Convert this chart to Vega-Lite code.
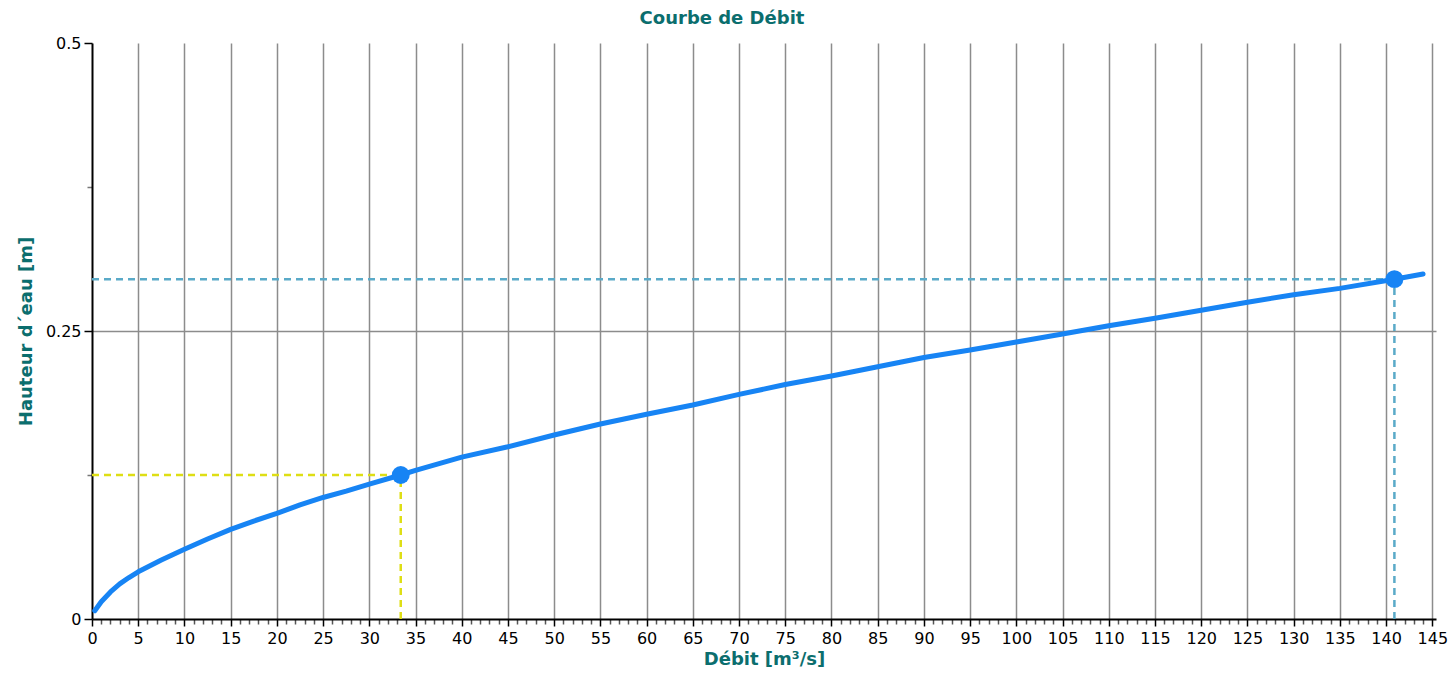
{
  "$schema": "https://vega.github.io/schema/vega-lite/v6.json",
  "width": 1344,
  "height": 576,
  "autosize": {"type": "none"},
  "padding": {"left": 92, "top": 43, "right": 16, "bottom": 58},
  "title": {"text": "Courbe de Débit", "color": "#0b6e6e", "font": "DejaVu Sans", "fontSize": 18, "fontWeight": "bold", "anchor": "middle", "dx": -42, "offset": 7},
  "config": {
    "view": {"stroke": null},
    "axis": {"labelFont": "DejaVu Sans", "labelFontSize": 16, "labelColor": "#000", "titleFont": "DejaVu Sans", "titleFontSize": 18, "titleFontWeight": "bold", "titleColor": "#0b6e6e", "domainColor": "#000", "domainWidth": 2, "tickColor": "#000", "tickWidth": 1.5, "gridColor": "#8c8c8c", "gridWidth": 1.5}
  },
  "datasets": {
    "curve": [
      {"q": 0.3, "h": 0.0072}, {"q": 1, "h": 0.015}, {"q": 2, "h": 0.0235}, {"q": 3, "h": 0.0305},
      {"q": 4, "h": 0.036}, {"q": 5, "h": 0.041}, {"q": 7.5, "h": 0.0512}, {"q": 10, "h": 0.0605},
      {"q": 12.5, "h": 0.0695}, {"q": 15, "h": 0.0778}, {"q": 17.5, "h": 0.085}, {"q": 20, "h": 0.0917},
      {"q": 22.5, "h": 0.099}, {"q": 25, "h": 0.1055}, {"q": 27.5, "h": 0.111}, {"q": 30, "h": 0.117},
      {"q": 33.4, "h": 0.125}, {"q": 35, "h": 0.129}, {"q": 40, "h": 0.1405}, {"q": 45, "h": 0.1495},
      {"q": 50, "h": 0.1597}, {"q": 55, "h": 0.1693}, {"q": 60, "h": 0.1777}, {"q": 65, "h": 0.1858},
      {"q": 70, "h": 0.195}, {"q": 75, "h": 0.2035}, {"q": 80, "h": 0.211}, {"q": 85, "h": 0.219},
      {"q": 90, "h": 0.227}, {"q": 95, "h": 0.2335}, {"q": 100, "h": 0.2405}, {"q": 105, "h": 0.2474},
      {"q": 110, "h": 0.2545}, {"q": 115, "h": 0.261}, {"q": 120, "h": 0.268}, {"q": 125, "h": 0.275},
      {"q": 130, "h": 0.2815}, {"q": 135, "h": 0.287}, {"q": 140.9, "h": 0.295}, {"q": 144, "h": 0.2995}
    ],
    "refs": [
      {"series": "A", "q": 0, "q2": 33.4, "h": 0.125, "h2": 0.125},
      {"series": "A", "q": 33.4, "q2": 33.4, "h": 0, "h2": 0.125},
      {"series": "B", "q": 0, "q2": 140.9, "h": 0.295, "h2": 0.295},
      {"series": "B", "q": 140.9, "q2": 140.9, "h": 0, "h2": 0.295}
    ],
    "pts": [
      {"q": 33.4, "h": 0.125},
      {"q": 140.9, "h": 0.295}
    ]
  },
  "layer": [
    {
      "data": {"name": "refs"},
      "mark": {"type": "rule", "strokeDash": [7, 5], "strokeWidth": 2.5},
      "encoding": {
        "x": {"field": "q", "type": "quantitative", "scale": {"domain": [0, 145.4], "nice": false, "zero": false},
          "axis": {"values": [0,1,2,3,4,5,6,7,8,9,10,11,12,13,14,15,16,17,18,19,20,21,22,23,24,25,26,27,28,29,30,31,32,33,34,35,36,37,38,39,40,41,42,43,44,45,46,47,48,49,50,51,52,53,54,55,56,57,58,59,60,61,62,63,64,65,66,67,68,69,70,71,72,73,74,75,76,77,78,79,80,81,82,83,84,85,86,87,88,89,90,91,92,93,94,95,96,97,98,99,100,101,102,103,104,105,106,107,108,109,110,111,112,113,114,115,116,117,118,119,120,121,122,123,124,125,126,127,128,129,130,131,132,133,134,135,136,137,138,139,140,141,142,143,144,145],
            "tickCount": 300,
            "labelFont": "DejaVu Sans", "labelFontSize": 16, "labelColor": "#000",
            "titleFont": "DejaVu Sans", "titleFontSize": 18, "titleFontWeight": "bold", "titleColor": "#0b6e6e",
            "title": "Débit [m³/s]", "labelPadding": 4, "titlePadding": 4, "labelFlush": false, "labelOverlap": false,
            "labelExpr": "datum.value % 5 == 0 ? format(datum.value, 'd') : ''",
            "tickSize": {"condition": {"test": "datum.value % 5 == 0", "value": 7}, "value": 5},
            "tickColor": {"condition": {"test": "datum.value % 5 == 0", "value": "#000"}, "value": "#555"},
            "gridOpacity": {"condition": {"test": "datum.value % 5 == 0 && datum.value > 0", "value": 1}, "value": 0}}},
        "x2": {"field": "q2"},
        "y": {"field": "h", "type": "quantitative", "scale": {"domain": [0, 0.5], "nice": false},
          "axis": {"values": [0, 0.125, 0.25, 0.375, 0.5], "tickCount": 20, "title": "Hauteur d´eau [m]", "titlePadding": 10,
            "labelFont": "DejaVu Sans", "labelFontSize": 16, "labelColor": "#000",
            "titleFont": "DejaVu Sans", "titleFontSize": 18, "titleFontWeight": "bold", "titleColor": "#0b6e6e",
            "labelExpr": "datum.value == 0 ? '0' : datum.value == 0.25 ? '0.25' : datum.value == 0.5 ? '0.5' : ''",
            "gridOpacity": {"condition": {"test": "datum.value == 0.25", "value": 1}, "value": 0},
            "tickSize": {"condition": {"test": "datum.value == 0.125 || datum.value == 0.375", "value": 5}, "value": 8},
            "tickColor": {"condition": {"test": "datum.value == 0.125 || datum.value == 0.375", "value": "#777"}, "value": "#000"},
            "labelPadding": 3, "labelFlush": false, "labelOverlap": false}},
        "y2": {"field": "h2"},
        "color": {"field": "series", "type": "nominal", "scale": {"domain": ["A", "B"], "range": ["#dede14", "#5aaac8"]}, "legend": null}
      }
    },
    {
      "data": {"name": "curve"},
      "mark": {"type": "line", "color": "#1784f4", "strokeWidth": 5, "interpolate": "linear", "strokeJoin": "round", "strokeCap": "round"},
      "encoding": {
        "x": {"field": "q", "type": "quantitative"},
        "y": {"field": "h", "type": "quantitative"}
      }
    },
    {
      "data": {"name": "pts"},
      "mark": {"type": "circle", "color": "#1784f4", "size": 320, "opacity": 1},
      "encoding": {
        "x": {"field": "q", "type": "quantitative"},
        "y": {"field": "h", "type": "quantitative"}
      }
    }
  ]
}
